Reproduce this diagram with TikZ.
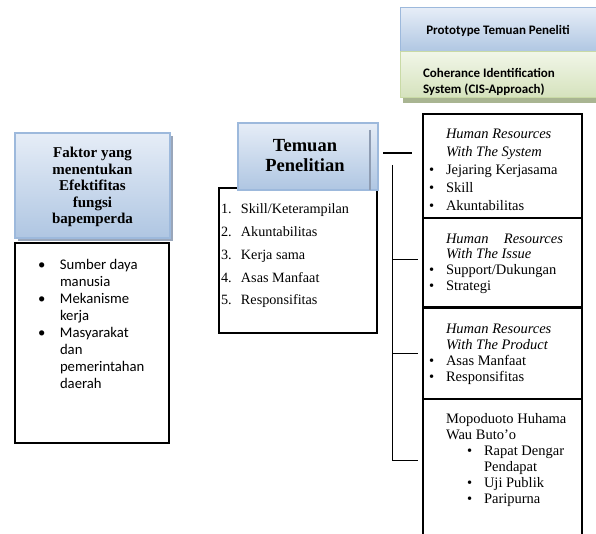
\documentclass[tikz,border=0pt]{standalone}
\usepackage{fontspec}
\setmainfont{Liberation Serif}
\newfontfamily\calib{Carlito}
\usetikzlibrary{shadows}

\definecolor{hdrtop}{HTML}{E6EDF7}
\definecolor{hdrbot}{HTML}{AFC6E2}
\definecolor{hdrline}{HTML}{9DB9DC}
\definecolor{hdrshade}{HTML}{8E9CB2}
\definecolor{grntop}{HTML}{F1F6E8}
\definecolor{grnbot}{HTML}{D5E2BC}
\definecolor{grnline}{HTML}{C9DAA6}
\definecolor{grnshade}{HTML}{A9B592}

\newcommand{\itm}[2][17pt]{\makebox[#1][l]{\textbullet}#2}
\newcommand{\cont}[1][17pt]{\hspace*{#1}}

\begin{document}
\begin{tikzpicture}[x=1pt,y=-1pt,
    every node/.style={inner sep=0pt,outer sep=0pt},
    hdr/.style={draw=hdrline,line width=1.2pt,top color=hdrtop,bottom color=hdrbot},
    grn/.style={draw=grnline,line width=1pt,top color=grntop,bottom color=grnbot},
    box/.style={draw,line width=1.5pt,fill=white},
    cellbox/.style={draw,line width=1.5pt,minimum width=159pt,anchor=north west},
    body/.style={anchor=base west,align=left,font=\fontsize{14.5}{#1}\selectfont},
    conn/.style={line width=1pt}]
  \useasboundingbox (0,0) rectangle (596,534);

  \node[hdr,drop shadow={shadow xshift=3pt,shadow yshift=-3pt,fill=hdrshade,opacity=.9},
    minimum width=155pt,minimum height=105pt,anchor=north west] (faktorhead) at (15,133) {};
  \node[box,minimum width=154pt,minimum height=200pt,anchor=north west] (faktorbox) at (15,243) {};

  \node[box,minimum width=158pt,minimum height=145pt,anchor=north west] (temubox) at (219,188) {};
  \node[hdr,minimum width=140pt,minimum height=67pt,anchor=north west] (temuhead) at (238,123) {};
  \draw[hdrshade,line width=1.5pt] ([xshift=-8pt,yshift=-7pt]temuhead.north east) -- ([xshift=-8pt]temuhead.south east);

  \node[hdr,line width=1pt,minimum width=200pt,minimum height=44pt,anchor=north west] (protohead) at (400,8) {};
  \node[grn,drop shadow={shadow xshift=3pt,shadow yshift=-5pt,fill=grnshade,opacity=1},
    minimum width=200pt,minimum height=46pt,anchor=north west] (cishead) at (400,52) {};

  \node[cellbox,minimum height=104pt] (cell1) at (423,114) {};
  \node[cellbox,minimum height=89pt] (cell2) at (423,218) {};
  \node[cellbox,minimum height=92pt] (cell3) at (423,307) {};
  \node[cellbox,minimum height=150pt] (cell4) at (423,399) {};
  \draw[line width=3pt] (cell2.south west) -- (cell2.south east);

  \node[anchor=base,align=center,font=\bfseries\fontsize{15}{16.5}\selectfont] (faktortxt) at (92.5,224)
    {Faktor yang\\menentukan\\Efektifitas\\fungsi\\bapemperda};
  \node[anchor=base west,align=left,font=\calib\fontsize{14.7}{16.86}\selectfont] (faktorlist) at (38,388)
    {\itm[22pt]{Sumber daya}\\\cont[22pt]manusia\\\itm[22pt]{Mekanisme}\\\cont[22pt]kerja\\
     \itm[22pt]{Masyarakat}\\\cont[22pt]dan\\\cont[22pt]pemerintahan\\\cont[22pt]daerah};

  \node[anchor=base,align=center,font=\bfseries\fontsize{18.5}{20}\selectfont] (temutxt) at (305,172)
    {Temuan\\Penelitian};
  \node[anchor=base west,align=left,font=\fontsize{14.2}{22.7}\selectfont] (temulist) at (221,304.8)
    {\makebox[20pt][l]{1.}Skill/Keterampilan\\\makebox[20pt][l]{2.}Akuntabilitas\\
     \makebox[20pt][l]{3.}Kerja sama\\\makebox[20pt][l]{4.}Asas Manfaat\\\makebox[20pt][l]{5.}Responsifitas};

  \node[anchor=base,font=\calib\bfseries\fontsize{13}{16}\selectfont] (prototxt) at (498,34.5)
    {Prototype Temuan Peneliti};
  \node[anchor=base west,align=left,font=\calib\bfseries\fontsize{13}{16}\selectfont] (cistxt) at (423,93.5)
    {Coherance Identification\\System (CIS-Approach)};

  \node[body=18] (cell1txt) at (429,211)
    {\cont\textit{Human Resources}\\\cont\textit{With The System}\\\itm{Jejaring Kerjasama}\\\itm{Skill}\\\itm{Akuntabilitas}};
  \node[body=15.7] (cell2txt) at (429,290.1)
    {\cont\makebox[117pt][s]{\itshape Human Resources}\\\cont\textit{With The Issue}\\\itm{Support/Dukungan}\\\itm{Strategi}};
  \node[body=16] (cell3txt) at (429,381)
    {\cont\textit{Human Resources}\\\cont\textit{With The Product}\\\itm{Asas Manfaat}\\\itm{Responsifitas}};
  \node[body=16] (cell4txt) at (429,503)
    {\cont Mopoduoto Huhama\\\cont Wau Buto’o\\\cont[38pt]\itm{Rapat Dengar}\\\cont[55pt]Pendapat\\
     \cont[38pt]\itm{Uji Publik}\\\cont[38pt]\itm{Paripurna}};

  \coordinate (busT) at (392,165);
  \coordinate (busB) at (392,460);
  \draw[line width=1.5pt] ([xshift=5pt,yshift=3.5pt]temuhead.east) -- ++(29,0);
  \draw[conn] (busT) -- (busB);
  \foreach \yy in {260,353,460}
    \draw[conn] (busT |- 0,\yy) -- ++(26,0);
\end{tikzpicture}
\end{document}
